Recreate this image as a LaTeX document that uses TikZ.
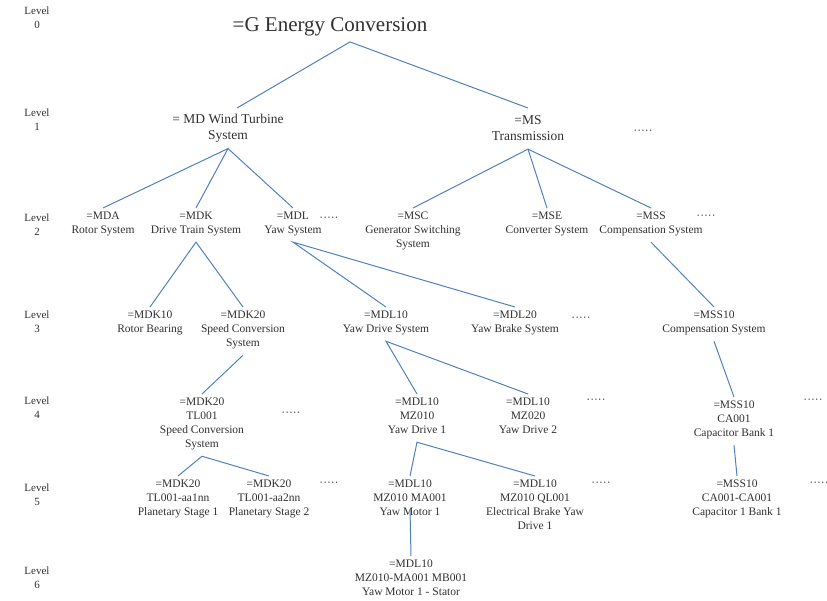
\documentclass[tikz,border=0pt]{standalone}
\usepackage{fontspec}
\setmainfont{Liberation Serif}
\definecolor{lineblue}{HTML}{4F81BD}
\definecolor{txt}{HTML}{303030}
\begin{document}
\begin{tikzpicture}[x=1pt,y=-1pt,
  every node/.style={text=txt, inner xsep=0pt},
  unit/.style={align=center, anchor=north, inner ysep=4pt,
    font=\fontsize{11.5}{14}\selectfont,
    execute at begin node=\strut, execute at end node=\strut},
  sysbox/.style={unit, font=\fontsize{13.5}{16}\selectfont},
  lvl/.style={align=center, inner sep=0pt, font=\fontsize{11}{14}\selectfont},
  more/.style={inner sep=0pt, font=\fontsize{11.5}{14}\selectfont},
  link/.style={draw=lineblue, line width=1pt}]
\useasboundingbox (0,0) rectangle (827,601);

% level captions
\node[lvl] (lv0) at (37,18)  {Level\\0};
\node[lvl] (lv1) at (37,120) {Level\\1};
\node[lvl] (lv2) at (37,225) {Level\\2};
\node[lvl] (lv3) at (37,322) {Level\\3};
\node[lvl] (lv4) at (37,408) {Level\\4};
\node[lvl] (lv5) at (37,495) {Level\\5};
\node[lvl] (lv6) at (37,578) {Level\\6};

% level 0
\node[inner sep=2pt, font=\fontsize{21}{24}\selectfont] (g) at (330,27) {=G Energy Conversion};

% level 1
\node[sysbox] (md) at (228,110) {= MD Wind Turbine\\System};
\node[sysbox] (ms) at (528,111) {=MS\\Transmission};
\node[more] (d1) at (643,132) {·····};

% level 2
\node[unit] (mda) at (103,208) {=MDA\\Rotor System};
\node[unit] (mdk) at (196,208) {=MDK\\Drive Train System};
\node[unit] (mdl) at (293,208) {=MDL\\Yaw System};
\node[more] (d2a) at (329,219) {·····};
\node[unit] (msc) at (413,208) {=MSC\\Generator Switching\\System};
\node[unit] (mse) at (547,208) {=MSE\\Converter System};
\node[unit] (mss) at (651,208) {=MSS\\Compensation System};
\node[more] (d2b) at (706,217) {·····};

% level 3
\node[unit] (mdk10) at (150,307) {=MDK10\\Rotor Bearing};
\node[unit] (mdk20) at (243,307) {=MDK20\\Speed Conversion\\System};
\node[unit] (mdl10) at (386,307) {=MDL10\\Yaw Drive System};
\node[unit] (mdl20) at (515,307) {=MDL20\\Yaw Brake System};
\node[more] (d3) at (581,319) {·····};
\node[unit] (mss10) at (714,307) {=MSS10\\Compensation System};

% level 4
\node[unit] (tl) at (202,394) {=MDK20\\TL001\\Speed Conversion\\System};
\node[more] (d4a) at (291,414) {·····};
\node[unit] (mz1) at (417,394) {=MDL10\\MZ010\\Yaw Drive 1};
\node[unit] (mz2) at (528,394) {=MDL10\\MZ020\\Yaw Drive 2};
\node[more] (d4b) at (596,401) {·····};
\node[unit] (ca) at (734,397) {=MSS10\\CA001\\Capacitor Bank 1};
\node[more] (d4c) at (813,401) {·····};

% level 5
\node[unit] (st1) at (178,476) {=MDK20\\TL001-aa1nn\\Planetary Stage 1};
\node[unit] (st2) at (269,476) {=MDK20\\TL001-aa2nn\\Planetary Stage 2};
\node[more] (d5a) at (329,484) {·····};
\node[unit] (ma) at (410,476) {=MDL10\\MZ010 MA001\\Yaw Motor 1};
\node[unit] (ql) at (535,476) {=MDL10\\MZ010 QL001\\Electrical Brake Yaw\\Drive 1};
\node[more] (d5b) at (601,484) {·····};
\node[unit] (cc) at (737,476) {=MSS10\\CA001-CA001\\Capacitor 1 Bank 1};
\node[more] (d5c) at (819,484) {·····};

% level 6
\node[unit] (mb) at (411,556) {=MDL10\\MZ010-MA001 MB001\\Yaw Motor 1 - Stator};

% connectors
\draw[link] ([xshift=9pt,yshift=2pt]md.north) -- ([xshift=20pt,yshift=-3.5pt]g.south) -- ([yshift=3pt]ms.north);
\draw[link] (mda.north) -- (md.south) -- (mdk.north);
\draw[link] (md.south) -- (mdl.north);
\draw[link] (msc.north) -- (ms.south) -- (mse.north);
\draw[link] (ms.south) -- (mss.north);
\draw[link] (mdk10.north) -- (mdk.south) -- (mdk20.north);
\draw[link] (mdl10.north) -- (mdl.south) -- (mdl20.north);
\draw[link] (mss.south) -- (mss10.north);
\draw[link] (mdk20.south) -- (tl.north);
\draw[link] (mz1.north) -- (mdl10.south) -- (mz2.north);
\draw[link] (mss10.south) -- (ca.north);
\draw[link] (st1.north) -- (tl.south) -- (st2.north);
\draw[link] (ma.north) -- (mz1.south) -- (ql.north);
\draw[link] (ca.south) -- (cc.north);
\draw[link] ([yshift=15pt]ma.south) -- (mb.north);
\end{tikzpicture}
\end{document}
